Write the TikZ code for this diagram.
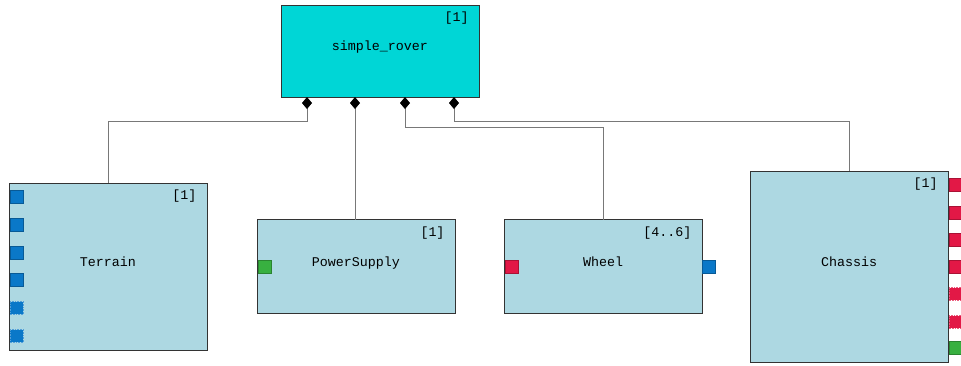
\documentclass[tikz,border=0pt]{standalone}
\usepackage{fontspec}
\setmonofont{Liberation Mono}
\usetikzlibrary{arrows.meta,positioning}

\definecolor{roverfill}{RGB}{0,214,214}
\definecolor{partfill}{RGB}{173,216,226}
\definecolor{portblue}{RGB}{10,120,200}
\definecolor{portred}{RGB}{226,24,70}
\definecolor{portgreen}{RGB}{56,176,64}

\tikzset{every picture/.style={line width=0.75pt}}
\tikzset{
  part/.style={draw={rgb,255:red,51;green,51;blue,51}, fill=partfill, outer sep=0pt,
    font=\ttfamily\normalsize, minimum width=148.5pt, text depth=8pt},
  mult/.style={inner sep=0pt, font=\ttfamily\normalsize},
  port/.style={draw=#1!75!black, fill=#1, line width=0.5pt, inner sep=0pt, minimum size=9.5pt},
  optport/.style={draw=#1!70!white, dashed, dash pattern=on 1.2pt off 0.8pt, fill=#1,
    line width=0.6pt, inner sep=0pt, minimum size=9.5pt},
  link/.style={draw={rgb,255:red,120;green,120;blue,120}, line width=0.6pt},
  owns/.style={link, {Diamond[length=9pt,width=7.5pt,fill=black,color=black]}-}
}

\begin{document}
\begin{tikzpicture}[x=0.75pt,y=0.75pt,yscale=-1]
\useasboundingbox (0,0) rectangle (961,365);

% Blocks
\node[part, fill=roverfill, minimum height=69pt] (rover) at (380,51) {simple\_rover};
\node[part, minimum height=125.25pt] (terrain) at (108,266.5) {Terrain};
\node[part, minimum height=70.5pt] (power) at (356,266.5) {PowerSupply};
\node[part, minimum height=70.5pt] (wheel) at (603,266.5) {Wheel};
\node[part, minimum height=143.25pt] (chassis) at (849,266.5) {Chassis};

% Multiplicities
\node[mult, below left=5pt and 7.5pt] (roverm) at (rover.north east) {[1]};
\node[mult, below left=5pt and 7.5pt] (terrainm) at (terrain.north east) {[1]};
\node[mult, below left=5pt and 7.5pt] (powerm) at (power.north east) {[1]};
\node[mult, below left=5pt and 7.5pt] (wheelm) at (wheel.north east) {[4..6]};
\node[mult, below left=5pt and 7.5pt] (chassism) at (chassis.north east) {[1]};

% Ports of Terrain
\node[port=portblue, anchor=west] (tp1) at (10,197) {};
\node[port=portblue, anchor=west] (tp2) at (10,225) {};
\node[port=portblue, anchor=west] (tp3) at (10,253) {};
\node[port=portblue, anchor=west] (tp4) at (10,280) {};
\node[optport=portblue, anchor=west] (tp5) at (10,308) {};
\node[optport=portblue, anchor=west] (tp6) at (10,336) {};

% Ports of PowerSupply and Wheel
\node[port=portgreen, anchor=west] (pp1) at (258,266.5) {};
\node[port=portred, anchor=west] (wp1) at (505,266.5) {};
\node[port=portblue, anchor=west] (wp2) at (702,266.5) {};

% Ports of Chassis
\node[port=portred, anchor=west] (cp1) at (949,185) {};
\node[port=portred, anchor=west] (cp2) at (949,213) {};
\node[port=portred, anchor=west] (cp3) at (949,240) {};
\node[port=portred, anchor=west] (cp4) at (949,267) {};
\node[optport=portred, anchor=west] (cp5) at (949,294) {};
\node[optport=portred, anchor=west] (cp6) at (949,322) {};
\node[port=portgreen, anchor=west] (cp7) at (949,348) {};

% Composition links
\coordinate (o1) at (307,97);
\coordinate (o2) at (355,97);
\coordinate (o3) at (405,97);
\coordinate (o4) at (454,97);
\draw[owns] (o1) -- ++(0,24) -| (terrain.north);
\draw[owns] (o2) -- (o2 |- power.north);
\draw[owns] (o3) -- ++(0,30) -| (wheel.north);
\draw[owns] (o4) -- ++(0,24) -| (chassis.north);

\end{tikzpicture}
\end{document}
